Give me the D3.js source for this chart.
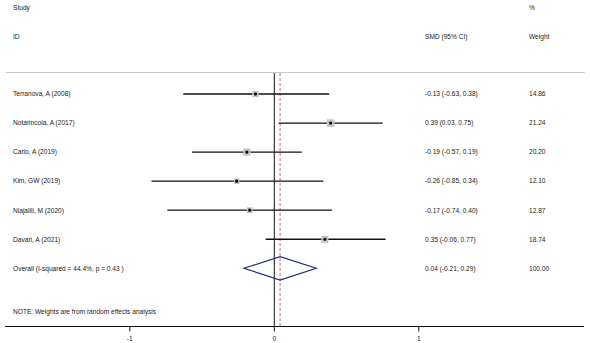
<!DOCTYPE html>
<html lang="en">
<head>
    <meta charset="UTF-8">
    <title>Forest plot</title>
    <script src="https://d3js.org/d3.v7.min.js"></script>
    <style>
        body { margin: 0; background: #fff; }
        text { font-family: "Liberation Sans", Arial, sans-serif; font-size: 6.6px; fill: #1a1a1a; }
    </style>
</head>
<body>
    <div id="plot"></div>

    <script>
        // study rows
        const studies = ["Terranova, A (2008)", "Notarincola, A (2017)", "Carlo, A (2019)", "Kim, GW (2019)", "Niajalili, M (2020)", "Davari, A (2021)"];
        const smd = [-0.13, 0.39, -0.19, -0.26, -0.17, 0.35];
        const lower = [-0.63, 0.03, -0.57, -0.85, -0.74, -0.06];
        const upper = [0.38, 0.75, 0.19, 0.34, 0.40, 0.77];
        const weights = [14.86, 21.24, 20.20, 12.10, 12.87, 18.74];

        // pooled estimate
        const overallLabel = "Overall  (I-squared = 44.4%, p = 0.43  )";
        const overall = { est: 0.04, lo: -0.21, hi: 0.29, weight: 100.00 };

        const xTicks = [-1, 0, 1];

        const width = 590, height = 343;
        const svg = d3.select("#plot").append("svg")
            .attr("width", width)
            .attr("height", height);

        const x = d3.scaleLinear().domain([-1, 1]).range([129.8, 418.8]);
        const rowY = d3.scalePoint()
            .domain(d3.range(studies.length + 1))
            .range([94, 268.3]);

        // headers
        svg.append("text").attr("x", 13).attr("y", 9.5).text("Study");
        svg.append("text").attr("x", 13).attr("y", 39).text("ID");
        svg.append("text").attr("x", 529).attr("y", 9.5).text("%");
        svg.append("text").attr("x", 425).attr("y", 39).text("SMD (95% CI)");
        svg.append("text").attr("x", 529).attr("y", 39).text("Weight");

        // separator line
        svg.append("line")
            .attr("x1", 6).attr("x2", 585).attr("y1", 72.5).attr("y2", 72.5)
            .attr("stroke", "#c8c8c8").attr("stroke-width", 1);

        const axisY = 326.5;

        // no-effect line
        svg.append("line")
            .attr("x1", x(0)).attr("x2", x(0)).attr("y1", 73).attr("y2", axisY)
            .attr("stroke", "#111").attr("stroke-width", 1);

        // overall effect line
        svg.append("line")
            .attr("x1", x(overall.est)).attr("x2", x(overall.est)).attr("y1", 73).attr("y2", axisY)
            .attr("stroke", "#c0707a").attr("stroke-width", 1)
            .attr("stroke-dasharray", "3,2");

        const maxW = d3.max(weights);
        const side = d3.scaleSqrt().domain([0, maxW]).range([0, 7.5]);

        const rows = svg.append("g").selectAll("g")
            .data(studies.map((s, i) => ({ s, i, est: smd[i], lo: lower[i], hi: upper[i], w: weights[i] })))
            .join("g");

        rows.append("line")
            .attr("x1", d => x(d.lo)).attr("x2", d => x(d.hi))
            .attr("y1", d => rowY(d.i)).attr("y2", d => rowY(d.i))
            .attr("stroke", "#111").attr("stroke-width", 1.3);

        rows.append("rect")
            .attr("x", d => x(d.est) - side(d.w) / 2)
            .attr("y", d => rowY(d.i) - side(d.w) / 2)
            .attr("width", d => side(d.w))
            .attr("height", d => side(d.w))
            .attr("fill", "#c4c4c4");

        rows.append("circle")
            .attr("cx", d => x(d.est)).attr("cy", d => rowY(d.i))
            .attr("r", 1.6).attr("fill", "#000");

        rows.append("text").attr("x", 13).attr("y", d => rowY(d.i) + 2.3).text(d => d.s);
        rows.append("text").attr("x", 425).attr("y", d => rowY(d.i) + 2.3)
            .text(d => `${d.est.toFixed(2)} (${d.lo.toFixed(2)}, ${d.hi.toFixed(2)})`);
        rows.append("text").attr("x", 529).attr("y", d => rowY(d.i) + 2.3)
            .text(d => d.w.toFixed(2));

        // overall diamond
        const oy = rowY(studies.length);
        const dh = 11.7;
        svg.append("path")
            .attr("d", `M${x(overall.lo)},${oy} L${x(overall.est)},${oy - dh} L${x(overall.hi)},${oy} L${x(overall.est)},${oy + dh} Z`)
            .attr("fill", "none").attr("stroke", "#1f2a80").attr("stroke-width", 1.2);

        svg.append("text").attr("x", 13).attr("y", oy + 2.3).text(overallLabel);
        svg.append("text").attr("x", 425).attr("y", oy + 2.3)
            .text(`${overall.est.toFixed(2)} (${overall.lo.toFixed(2)}, ${overall.hi.toFixed(2)})`);
        svg.append("text").attr("x", 529).attr("y", oy + 2.3).text(overall.weight.toFixed(2));

        svg.append("text").attr("x", 13).attr("y", 314).text("NOTE: Weights are from random effects analysis");

        // x axis
        const axis = svg.append("g").attr("transform", `translate(0,${axisY})`);
        axis.append("line")
            .attr("x1", 5).attr("x2", 584).attr("y1", 0).attr("y2", 0)
            .attr("stroke", "#111").attr("stroke-width", 1);
        axis.selectAll(".tick").data(xTicks).join("line")
            .attr("x1", d => x(d)).attr("x2", d => x(d))
            .attr("y1", 0).attr("y2", 5)
            .attr("stroke", "#111").attr("stroke-width", 1);
        axis.selectAll(".lbl").data(xTicks).join("text")
            .attr("x", d => x(d)).attr("y", 14)
            .attr("text-anchor", "middle")
            .text(d => d);
    </script>
</body>
</html>
